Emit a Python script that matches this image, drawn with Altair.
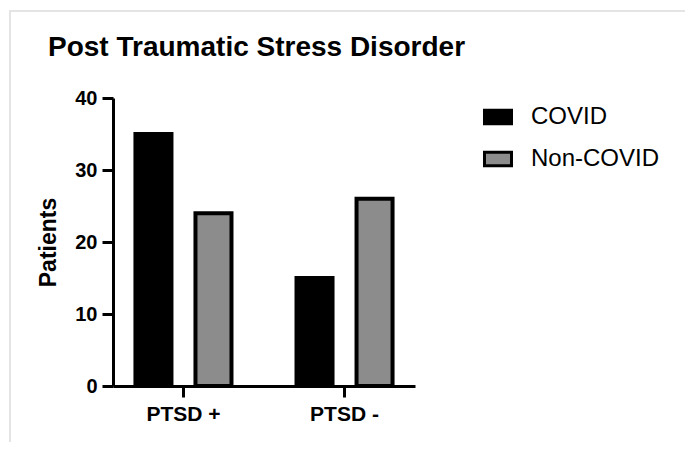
import altair as alt
import pandas as pd

categories = ["PTSD +", "PTSD -"]
series_names = ["COVID", "Non-COVID"]
covid = [35, 15]
non_covid = [24, 26]
y_ticks = [0, 10, 20, 30, 40]

rows = []
for i, c in enumerate(categories):
    rows.append({"group": c, "series": "COVID", "value": covid[i]})
    rows.append({"group": c, "series": "Non-COVID", "value": non_covid[i]})
df = pd.DataFrame(rows)

FONT = "Liberation Sans"

bars = alt.Chart(df).mark_bar(stroke="black", strokeWidth=4).encode(
    x=alt.X("group:N", sort=categories,
            scale=alt.Scale(paddingInner=0.125, paddingOuter=0),
            axis=alt.Axis(title=None, labelAngle=0, labelFontSize=21, labelPadding=6)),
    xOffset=alt.XOffset("series:N", sort=series_names,
                        scale=alt.Scale(paddingInner=0.4, paddingOuter=0.374)),
    y=alt.Y("value:Q", scale=alt.Scale(domain=[0, 40]),
            axis=alt.Axis(values=y_ticks, title="Patients", titleFontSize=23,
                          titlePadding=14, labelFontSize=20, labelPadding=5)),
    color=alt.Color("series:N",
                    scale=alt.Scale(domain=series_names, range=["#000000", "#8c8c8c"]),
                    legend=alt.Legend(title=None, orient="none", legendX=370, legendY=4,
                                      symbolType="M-1,-0.5H1V0.5H-1Z", symbolSize=729,
                                      symbolStrokeColor="black", symbolStrokeWidth=3,
                                      symbolOpacity=1,
                                      labelFont=FONT, labelFontSize=24, labelColor="black",
                                      labelOffset=18, rowPadding=14)),
)

frame = alt.Chart(pd.DataFrame({"a": [0]})).mark_rect(
    fill=None, stroke="#e4e4e4", strokeWidth=2
).encode(
    x=alt.value(-103), x2=alt.value(573), y=alt.value(-87), y2=alt.value(400)
)

chart = alt.layer(frame, bars).properties(
    width=302, height=288,
    title=alt.Title("Post Traumatic Stress Disorder", anchor="start", frame="group",
                    font=FONT, fontSize=28, fontWeight="bold", color="black",
                    dx=-65, dy=56),
    autosize=alt.AutoSizeParams(type="none"),
    padding={"left": 105, "top": 90, "right": 270, "bottom": 56},
).configure_axis(
    domainColor="black", domainWidth=3, tickColor="black", tickWidth=3, tickSize=11,
    labelFont=FONT, labelFontWeight="bold", labelColor="black",
    titleFont=FONT, titleFontWeight="bold", titleColor="black", grid=False,
).configure_view(strokeWidth=0)

chart.save("out.html", embed_options={"renderer": "svg", "actions": False})
